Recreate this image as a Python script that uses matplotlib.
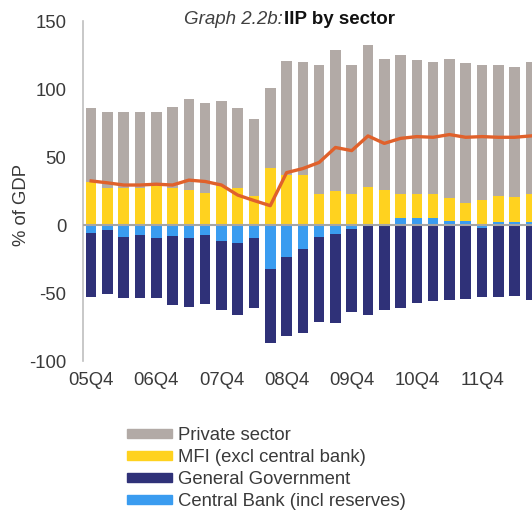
import matplotlib
matplotlib.use('Agg')
import matplotlib.pyplot as plt
import numpy as np

plt.rcParams['font.family'] = ['Liberation Sans', 'DejaVu Sans']
plt.rcParams['axes.unicode_minus'] = False

# quarters 05Q4 .. 12Q3
quarters = ['05Q4', '06Q1', '06Q2', '06Q3', '06Q4', '07Q1', '07Q2', '07Q3',
            '07Q4', '08Q1', '08Q2', '08Q3', '08Q4', '09Q1', '09Q2', '09Q3',
            '09Q4', '10Q1', '10Q2', '10Q3', '10Q4', '11Q1', '11Q2', '11Q3',
            '11Q4', '12Q1', '12Q2', '12Q3']

private = [54.5, 56, 55.5, 55.5, 54, 60, 67.5, 66.5, 63, 59, 57, 58.5, 83.5, 83.5,
           95, 103.5, 95, 104, 96.5, 102.5, 98.5, 97.5, 102, 102.5, 99.5, 97, 96, 97.5]
mfi = [31.5, 27, 27.5, 27.5, 29, 27, 25.5, 23.5, 28.5, 27, 21, 42, 37, 36.5,
       23, 25, 22.5, 28, 25.5, 17, 17, 17, 17, 13.5, 18.5, 18.5, 18, 20]
gov = [-46.7, -47, -45.5, -46.5, -44, -51, -50.7, -50.6, -51, -53.4, -51.3, -54.5, -58, -62.2,
       -62, -65.7, -60.9, -65.7, -61.7, -61, -57, -56, -55, -54.7, -51, -53, -52, -55]
central = [-6, -4, -8.5, -7.5, -9.5, -8, -9.3, -7.4, -11.5, -13, -9.5, -32, -23.3, -17.5,
           -9, -6.3, -2.8, -0.5, -0.5, 5.5, 5.5, 5.5, 3, 3, -2, 2.5, 2.5, 2.5]
net_line = [32.4, 31, 29.4, 29.4, 30, 29.4, 33, 32, 29.4, 22, 18, 14.2, 38.5, 41.5,
            46, 57, 54.7, 65.5, 60, 63.7, 65, 64.5, 66.5, 64.5, 65, 64.5, 64.5, 65.5]

c_priv = '#B2AAA6'
c_mfi = '#FFD21F'
c_gov = '#2F3178'
c_cb = '#3A9CF0'
c_line = '#E0612B'

x = np.arange(len(quarters))
cb = np.array(central)
cb_pos = np.clip(cb, 0, None)
cb_neg = np.clip(cb, None, 0)
mfi = np.array(mfi)
w = 0.65

fig = plt.figure(figsize=(5.32, 5.11), dpi=100)
ax = fig.add_axes([83 / 532, 150 / 511, 456 / 532, 340 / 511])

ax.bar(x, cb_pos, w, color=c_cb)
ax.bar(x, mfi, w, bottom=cb_pos, color=c_mfi)
ax.bar(x, private, w, bottom=cb_pos + mfi, color=c_priv)
ax.bar(x, cb_neg, w, color=c_cb)
ax.bar(x, gov, w, bottom=cb_neg, color=c_gov)
ax.plot(x, net_line, color=c_line, lw=2.4, zorder=5, solid_joinstyle='round')
ax.axhline(0, color='#A6A6A6', lw=1.5, zorder=4)

ax.set_xlim(-0.5, len(quarters) - 0.5)
ax.set_ylim(-100, 150)
ax.set_yticks([-100, -50, 0, 50, 100, 150])
ax.set_xticks(x[::4])
ax.set_xticklabels(quarters[::4])
ax.tick_params(axis='both', length=0, labelsize=13.3, colors='#3a3a3a')
ax.tick_params(axis='y', pad=12)
ax.tick_params(axis='x', pad=8)
for s in ['top', 'right', 'bottom']:
    ax.spines[s].set_visible(False)
ax.spines['left'].set_color('#BFBFBF')
ax.spines['left'].set_linewidth(1.2)

fig.text(22 / 532, 1 - 205 / 511, '% of GDP', rotation=90, ha='center', va='center',
         fontsize=13.3, color='#3a3a3a')

fig.text(283 / 532, 1 - 24 / 511, 'Graph 2.2b:', style='italic', ha='right',
         va='baseline', fontsize=13.5, color='#404040')
fig.text(284 / 532, 1 - 24 / 511, 'IIP by sector', fontweight='bold', ha='left',
         va='baseline', fontsize=13.5, color='#111111')

handles = [plt.Rectangle((0, 0), 1, 1, color=c) for c in [c_priv, c_mfi, c_gov, c_cb]]
labels = ['Private sector', 'MFI (excl central bank)', 'General Government',
          'Central Bank (incl reserves)']
fig.legend(handles, labels, loc='upper left', bbox_to_anchor=(127 / 532, 1 - 427 / 511),
           frameon=False, fontsize=13.3, handlelength=2.45, handleheight=0.35,
           handletextpad=0.3, labelspacing=0.27, borderpad=0, borderaxespad=0,
           labelcolor='#3a3a3a')

fig.savefig('out.png', dpi=100)
